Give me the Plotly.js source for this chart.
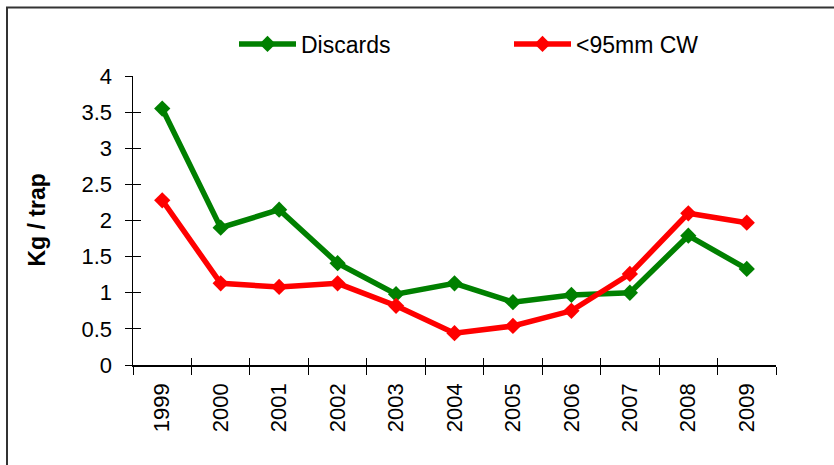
<!DOCTYPE html>
<html>
<head>
<meta charset="utf-8">
<script src="https://cdn.plot.ly/plotly-3.0.1.min.js"></script>
<style>html,body{margin:0;padding:0;background:#fff;}#chart{width:834px;height:465px;}</style>
</head>
<body>
<div id="chart"></div>
<script>
const years = ["1999","2000","2001","2002","2003","2004","2005","2006","2007","2008","2009"];
const discards = [3.55, 1.90, 2.15, 1.41, 0.98, 1.13, 0.87, 0.97, 1.00, 1.79, 1.33];
const under95 = [2.28, 1.13, 1.08, 1.13, 0.82, 0.44, 0.54, 0.75, 1.26, 2.10, 1.97];
const seriesNames = ["Discards", "<95mm CW"];
const yTicks = [0, 0.5, 1, 1.5, 2, 2.5, 3, 3.5, 4];
const yTickText = ["0", "0.5", "1", "1.5", "2", "2.5", "3", "3.5", "4"];
const yTitle = "Kg / trap";

const W = 834, H = 465;
const M = {l: 133, r: 58, t: 76, b: 100};
const pw = W - M.l - M.r, ph = H - M.t - M.b;
const px = v => (v - M.l) / pw;
const py = v => (H - M.b - v) / ph;

const FONT = "Liberation Sans, Arial, sans-serif";
const boundaries = years.map((_, i) => i - 0.5).concat([years.length - 0.5]);

const traces = [
  {x: years, y: discards, name: seriesNames[0], type: "scatter", mode: "lines+markers",
   line: {color: "#008000", width: 5.5}, marker: {symbol: "diamond", size: 12.5, color: "#008000"}},
  {x: years, y: under95, name: seriesNames[1], type: "scatter", mode: "lines+markers",
   line: {color: "#ff0000", width: 5.5}, marker: {symbol: "diamond", size: 12.5, color: "#ff0000"}},
  {x: [], y: [], xaxis: "x2", yaxis: "y2", showlegend: false, hoverinfo: "skip", type: "scatter"}
];

const layout = {
  width: W, height: H,
  margin: M,
  paper_bgcolor: "#fff", plot_bgcolor: "#fff",
  font: {family: FONT, color: "#000", size: 22},
  showlegend: true,
  legend: {orientation: "h", x: px(234), xanchor: "left", y: py(44), yanchor: "middle",
           font: {family: FONT, size: 23, color: "#000"}, itemwidth: 57, entrywidth: 203,
           bgcolor: "rgba(0,0,0,0)", borderwidth: 0, itemclick: false},
  xaxis: {type: "category", categoryorder: "array", categoryarray: years,
          range: [-0.5, years.length - 0.5], tickson: "boundaries",
          ticks: "outside", ticklen: 8, tickwidth: 1, tickcolor: "#000",
          showline: true, linecolor: "#000", linewidth: 1.5, showgrid: false, zeroline: false,
          tickangle: -90, tickfont: {family: FONT, size: 22}, ticklabelstandoff: 8, fixedrange: true},
  yaxis: {range: [0, 4], tickvals: yTicks, ticktext: yTickText,
          ticks: "outside", ticklen: 7, tickwidth: 1, tickcolor: "#000",
          showline: true, linecolor: "#000", linewidth: 1.5, showgrid: false, zeroline: false,
          tickfont: {family: FONT, size: 22}, ticklabelstandoff: 8, fixedrange: true},
  xaxis2: {overlaying: "x", anchor: "y", range: [-0.5, years.length - 0.5], tickvals: boundaries,
           ticks: "inside", ticklen: 7, tickcolor: "#000", showticklabels: false,
           showline: false, showgrid: false, zeroline: false, fixedrange: true},
  yaxis2: {overlaying: "y", anchor: "x", range: [0, 4], tickvals: yTicks,
           ticks: "inside", ticklen: 8, tickcolor: "#000", showticklabels: false,
           showline: false, showgrid: false, zeroline: false, fixedrange: true},
  annotations: [
    {text: "<b>" + yTitle + "</b>", xref: "paper", yref: "paper", x: px(36), y: 0.5,
     xanchor: "center", yanchor: "middle", textangle: -90, showarrow: false,
     font: {family: FONT, size: 23, color: "#000"}}
  ],
  shapes: [
    {type: "rect", xref: "paper", yref: "paper", x0: px(7), x1: px(900), y0: py(520), y1: py(7.5),
     line: {color: "#333", width: 2}, fillcolor: "rgba(0,0,0,0)", layer: "below"}
  ]
};

Plotly.newPlot("chart", traces, layout, {displayModeBar: false, staticPlot: true});
</script>
</body>
</html>
